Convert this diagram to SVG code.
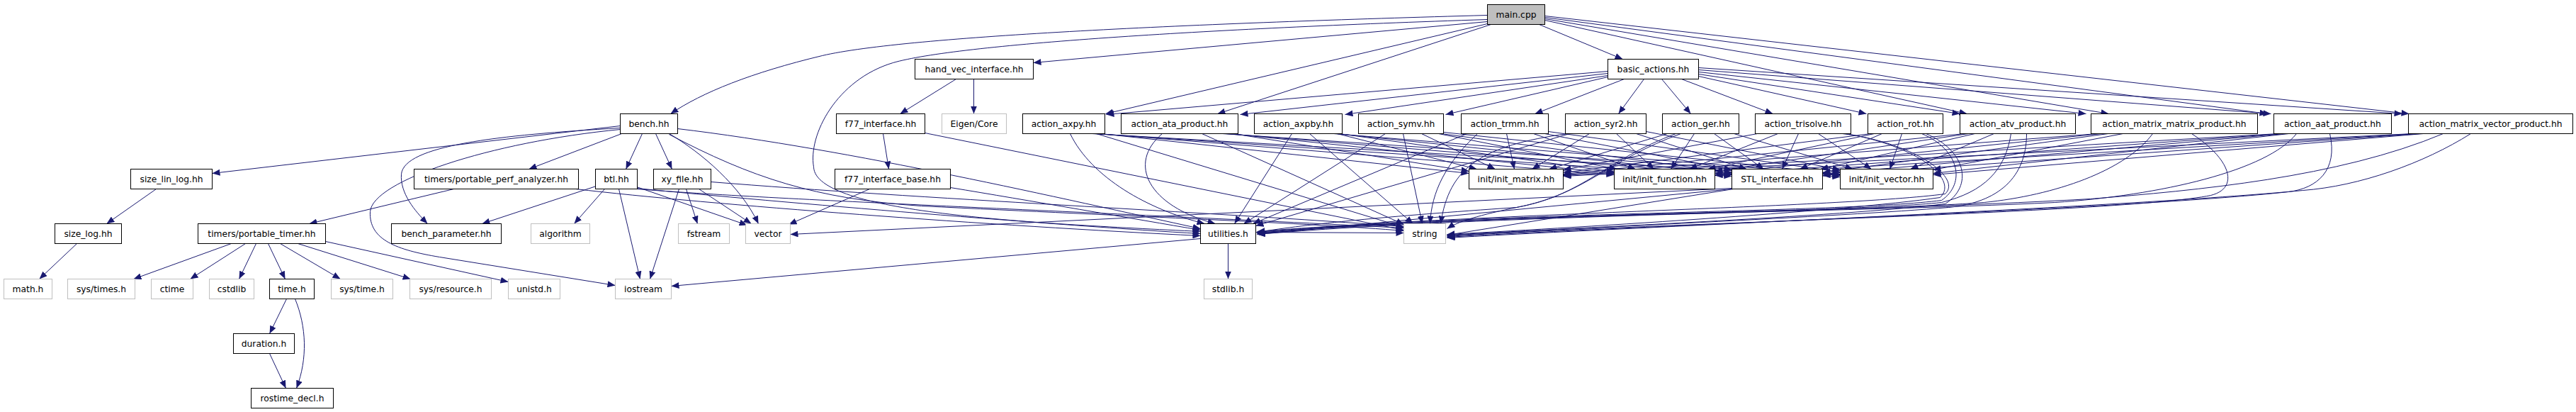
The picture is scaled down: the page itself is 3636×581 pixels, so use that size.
<svg xmlns="http://www.w3.org/2000/svg" width="3636" height="581" viewBox="0 0 3636 581">
<defs>
<style>
.n rect{fill:#fff;stroke:#000;stroke-width:1}
.x rect{fill:#fff;stroke:#bfbfbf;stroke-width:1}
.r rect{fill:#bfbfbf;stroke:#000;stroke-width:1}
text{font-family:"DejaVu Sans","Liberation Sans",sans-serif;font-size:12.3px;text-anchor:middle;fill:#000}
#edges path{fill:none;stroke:#191970;stroke-width:1;marker-end:url(#ah)}
</style>
<marker id="ah" markerWidth="12" markerHeight="9" refX="11" refY="4.5" orient="auto" markerUnits="userSpaceOnUse"><path d="M0,0 L11,4.5 L0,9 z" fill="#191970"/></marker>
</defs>
<rect width="3636" height="581" fill="#fff"/>
<g transform="translate(0.5,0.5)">
<g id="edges">
<path d="M2099,21 C1700,32 1280,50 1160,78 C1060,102 990,130 946,160"/>
<path d="M2099,27 C1700,40 1350,62 1260,88 C1180,112 1140,190 1148,235 C1150,300 1450,314 1694,326"/>
<path d="M2099,30 L1458,88"/>
<path d="M2172,34 L2290,83"/>
<path d="M2099,33 L1560,160"/>
<path d="M2104,34 L1718,160"/>
<path d="M2180,28 L2776,160"/>
<path d="M2180,26 L2976,160"/>
<path d="M2180,24 L3200,160"/>
<path d="M2180,22 L3400,160"/>
<path d="M2269,100 L1561,161"/>
<path d="M2269,103 L1750,161"/>
<path d="M2269,106 L1898,161"/>
<path d="M2269,108 L2040,161"/>
<path d="M2292,111 L2166,160"/>
<path d="M2320,111 L2284,160"/>
<path d="M2345,111 L2386,160"/>
<path d="M2373,111 L2502,160"/>
<path d="M2397,107 L2634,160"/>
<path d="M2397,104 L2766,160"/>
<path d="M2397,101 L2944,160"/>
<path d="M2397,98 L3205,160"/>
<path d="M2397,95 L3390,160"/>
<path d="M875,177 L299,244"/>
<path d="M875,180 C700,190 570,205 566,245 C564,272 585,297 603,315"/>
<path d="M875,182 C690,200 525,255 522,298 C520,338 560,352 620,362 L868,402"/>
<path d="M877,188 L746,238"/>
<path d="M906,188 L883,238"/>
<path d="M925,188 L948,238"/>
<path d="M944,188 C990,215 1045,262 1070,315"/>
<path d="M956,181 C1200,210 1500,280 1694,322"/>
<path d="M944,189 C1060,250 1150,280 1300,290 C1600,305 1850,314 1981,325"/>
<path d="M841,262 L680,315"/>
<path d="M853,266 L810,315"/>
<path d="M873,266 L903,393"/>
<path d="M898,263 L1054,317"/>
<path d="M898,265 C1100,285 1500,318 1694,329"/>
<path d="M898,266 C1100,282 1500,296 1981,321"/>
<path d="M958,266 L917,393"/>
<path d="M968,266 L984,315"/>
<path d="M986,266 L1060,315"/>
<path d="M1003,256 C1300,280 1700,298 1981,319"/>
<path d="M640,266 L436,315"/>
<path d="M812,266 C1000,288 1400,318 1694,332"/>
<path d="M326,343 L188,393"/>
<path d="M346,343 L268,393"/>
<path d="M361,343 L337,393"/>
<path d="M378,343 L402,393"/>
<path d="M395,343 L480,393"/>
<path d="M420,343 L579,393"/>
<path d="M459,340 L717,397"/>
<path d="M404,421 L380,470"/>
<path d="M416,421 C432,460 434,505 418,547"/>
<path d="M380,498 L403,547"/>
<path d="M220,266 L150,315"/>
<path d="M108,343 L55,393"/>
<path d="M1349,111 L1270,160"/>
<path d="M1374,111 L1374,160"/>
<path d="M1246,188 L1254,238"/>
<path d="M1305,187 L1981,324"/>
<path d="M1227,266 L1113,316"/>
<path d="M1341,264 C1450,282 1600,308 1694,324"/>
<path d="M1733,343 L1733,393"/>
<path d="M1694,336 L947,403"/>
<path d="M1772,327 L1981,328"/>
<path d="M2444,265 L1115,330"/>
<path d="M2444,266 L1774,330"/>
<path d="M2446,266 L2042,331"/>
<path d="M1553,188 L2073,244"/>
<path d="M1549,188 L2278,246"/>
<path d="M1545,188 L2444,248"/>
<path d="M1541,188 L2597,249"/>
<path d="M1510,188 C1540,250 1620,295 1700,315"/>
<path d="M1547,188 L1981,320"/>
<path d="M1740,188 L2073,241"/>
<path d="M1735,188 L2278,244"/>
<path d="M1730,188 L2444,246"/>
<path d="M1725,188 L2597,247"/>
<path d="M1640,188 C1590,230 1620,290 1715,315"/>
<path d="M1696,188 L1981,316"/>
<path d="M1887,188 L2084,238"/>
<path d="M1890,188 L2278,242"/>
<path d="M1886,188 L2444,245"/>
<path d="M1882,188 L2597,246"/>
<path d="M1823,188 L1742,315"/>
<path d="M1848,188 L1994,315"/>
<path d="M2006,188 L2110,238"/>
<path d="M2030,188 L2282,238"/>
<path d="M2034,188 L2444,243"/>
<path d="M2037,186 L2597,245"/>
<path d="M1955,188 L1755,315"/>
<path d="M1980,188 L2007,315"/>
<path d="M2126,188 L2137,238"/>
<path d="M2164,188 L2308,238"/>
<path d="M2180,188 L2444,239"/>
<path d="M2185,185 L2597,242"/>
<path d="M2070,188 L1768,315"/>
<path d="M2085,188 C2040,230 2020,270 2018,315"/>
<path d="M2243,188 L2162,238"/>
<path d="M2281,188 L2334,238"/>
<path d="M2309,188 L2465,238"/>
<path d="M2323,185 L2597,239"/>
<path d="M2215,188 L1772,318"/>
<path d="M2212,188 C2090,205 2045,235 2033,315"/>
<path d="M2353,188 L2186,238"/>
<path d="M2391,188 L2358,238"/>
<path d="M2419,188 L2489,238"/>
<path d="M2447,188 L2615,238"/>
<path d="M2365,188 C2265,225 2235,275 2140,292 C1950,305 1850,315 1774,327"/>
<path d="M2372,188 C2270,225 2240,270 2150,290 C2100,300 2060,310 2042,322"/>
<path d="M2480,188 L2206,239"/>
<path d="M2509,188 L2384,238"/>
<path d="M2538,188 L2515,238"/>
<path d="M2566,188 L2641,238"/>
<path d="M2600,188 C2700,200 2770,250 2745,273 C2600,292 2100,300 1774,326"/>
<path d="M2605,188 C2705,205 2765,252 2738,278 C2600,298 2200,322 2042,330"/>
<path d="M2640,188 L2206,243"/>
<path d="M2645,188 L2410,238"/>
<path d="M2656,188 L2540,238"/>
<path d="M2684,188 L2667,238"/>
<path d="M2712,188 C2765,210 2775,258 2740,282 C2600,300 2100,298 1774,327"/>
<path d="M2718,188 C2775,212 2785,262 2745,287 C2600,305 2200,322 2042,331"/>
<path d="M2772,188 L2206,245"/>
<path d="M2778,188 L2420,241"/>
<path d="M2787,188 L2569,238"/>
<path d="M2814,188 L2696,238"/>
<path d="M2838,188 C2830,240 2800,270 2740,285 C2600,300 2100,300 1774,328"/>
<path d="M2860,188 C2860,250 2820,285 2750,292 C2600,305 2200,322 2042,332"/>
<path d="M2960,188 L2206,246"/>
<path d="M2965,188 L2420,244"/>
<path d="M2975,188 L2572,243"/>
<path d="M2996,188 L2728,239"/>
<path d="M3038,188 C3000,240 2900,275 2800,285 C2600,300 2100,300 1774,328"/>
<path d="M3093,188 C3150,225 3160,265 3120,275 C3000,300 2300,315 2042,333"/>
<path d="M3215,188 L2206,247"/>
<path d="M3220,188 L2420,246"/>
<path d="M3225,188 L2572,245"/>
<path d="M3230,188 L2728,244"/>
<path d="M3241,188 C3200,240 3050,275 2900,285 C2600,300 2100,300 1774,329"/>
<path d="M3288,188 C3300,240 3270,265 3230,270 C3000,295 2300,318 2042,334"/>
<path d="M3405,188 L2206,248"/>
<path d="M3410,188 L2420,247"/>
<path d="M3415,188 L2572,247"/>
<path d="M3420,188 L2728,246"/>
<path d="M3448,188 C3300,250 3100,268 2950,280 C2600,300 2100,302 1774,330"/>
<path d="M3487,188 C3420,230 3330,262 3250,268 C3000,292 2300,320 2042,335"/>
</g>
<g id="n_main" class="r"><rect x="2099" y="6" width="81" height="28"/><text x="2139.5" y="24.5">main.cpp</text></g>
<g id="n_hand_vec" class="n"><rect x="1291" y="83" width="167" height="28"/><text x="1374.5" y="101.5">hand_vec_interface.hh</text></g>
<g id="n_basic_actions" class="n"><rect x="2269" y="83" width="128" height="28"/><text x="2333" y="101.5">basic_actions.hh</text></g>
<g id="n_bench" class="n"><rect x="875" y="160" width="81" height="28"/><text x="915.5" y="178.5">bench.hh</text></g>
<g id="n_f77_interface" class="n"><rect x="1180" y="160" width="125" height="28"/><text x="1242.5" y="178.5">f77_interface.hh</text></g>
<g id="n_eigen_core" class="x"><rect x="1329" y="160" width="91" height="28"/><text x="1374.5" y="178.5">Eigen/Core</text></g>
<g id="n_axpy" class="n"><rect x="1443" y="160" width="116" height="28"/><text x="1501" y="178.5">action_axpy.hh</text></g>
<g id="n_ata" class="n"><rect x="1582" y="160" width="165" height="28"/><text x="1664.5" y="178.5">action_ata_product.hh</text></g>
<g id="n_axpby" class="n"><rect x="1770" y="160" width="124" height="28"/><text x="1832" y="178.5">action_axpby.hh</text></g>
<g id="n_symv" class="n"><rect x="1917" y="160" width="120" height="28"/><text x="1977" y="178.5">action_symv.hh</text></g>
<g id="n_trmm" class="n"><rect x="2062" y="160" width="123" height="28"/><text x="2123.5" y="178.5">action_trmm.hh</text></g>
<g id="n_syr2" class="n"><rect x="2209" y="160" width="114" height="28"/><text x="2266" y="178.5">action_syr2.hh</text></g>
<g id="n_ger" class="n"><rect x="2346" y="160" width="108" height="28"/><text x="2400" y="178.5">action_ger.hh</text></g>
<g id="n_trisolve" class="n"><rect x="2477" y="160" width="135" height="28"/><text x="2544.5" y="178.5">action_trisolve.hh</text></g>
<g id="n_rot" class="n"><rect x="2636" y="160" width="106" height="28"/><text x="2689" y="178.5">action_rot.hh</text></g>
<g id="n_atv" class="n"><rect x="2766" y="160" width="163" height="28"/><text x="2847.5" y="178.5">action_atv_product.hh</text></g>
<g id="n_mm" class="n"><rect x="2951" y="160" width="235" height="28"/><text x="3068.5" y="178.5">action_matrix_matrix_product.hh</text></g>
<g id="n_aat" class="n"><rect x="3209" y="160" width="166" height="28"/><text x="3292" y="178.5">action_aat_product.hh</text></g>
<g id="n_mv" class="n"><rect x="3399" y="160" width="232" height="28"/><text x="3515" y="178.5">action_matrix_vector_product.hh</text></g>
<g id="n_size_lin_log" class="n"><rect x="184" y="238" width="115" height="28"/><text x="241.5" y="256.5">size_lin_log.hh</text></g>
<g id="n_perf" class="n"><rect x="584" y="238" width="232" height="28"/><text x="700" y="256.5">timers/portable_perf_analyzer.hh</text></g>
<g id="n_btl" class="n"><rect x="840" y="238" width="59" height="28"/><text x="869.5" y="256.5">btl.hh</text></g>
<g id="n_xy_file" class="n"><rect x="922" y="238" width="81" height="28"/><text x="962.5" y="256.5">xy_file.hh</text></g>
<g id="n_f77_base" class="n"><rect x="1178" y="238" width="163" height="28"/><text x="1259.5" y="256.5">f77_interface_base.hh</text></g>
<g id="n_init_matrix" class="n"><rect x="2073" y="238" width="133" height="28"/><text x="2139.5" y="256.5">init/init_matrix.hh</text></g>
<g id="n_init_function" class="n"><rect x="2278" y="238" width="142" height="28"/><text x="2349" y="256.5">init/init_function.hh</text></g>
<g id="n_stl" class="n"><rect x="2444" y="238" width="128" height="28"/><text x="2508" y="256.5">STL_interface.hh</text></g>
<g id="n_init_vector" class="n"><rect x="2597" y="238" width="131" height="28"/><text x="2662.5" y="256.5">init/init_vector.hh</text></g>
<g id="n_size_log" class="n"><rect x="77" y="315" width="94" height="28"/><text x="124" y="333.5">size_log.hh</text></g>
<g id="n_timer" class="n"><rect x="279" y="315" width="180" height="28"/><text x="369" y="333.5">timers/portable_timer.hh</text></g>
<g id="n_bench_param" class="n"><rect x="552" y="315" width="155" height="28"/><text x="629.5" y="333.5">bench_parameter.hh</text></g>
<g id="n_algorithm" class="x"><rect x="749" y="315" width="83" height="28"/><text x="790.5" y="333.5">algorithm</text></g>
<g id="n_fstream" class="x"><rect x="957" y="315" width="72" height="28"/><text x="993" y="333.5">fstream</text></g>
<g id="n_vector" class="x"><rect x="1052" y="315" width="63" height="28"/><text x="1083.5" y="333.5">vector</text></g>
<g id="n_utilities" class="n"><rect x="1694" y="315" width="78" height="28"/><text x="1733" y="333.5">utilities.h</text></g>
<g id="n_string" class="x"><rect x="1981" y="315" width="59" height="28"/><text x="2010.5" y="333.5">string</text></g>
<g id="n_math" class="x"><rect x="5" y="393" width="68" height="28"/><text x="39" y="411.5">math.h</text></g>
<g id="n_sys_times" class="x"><rect x="95" y="393" width="95" height="28"/><text x="142.5" y="411.5">sys/times.h</text></g>
<g id="n_ctime" class="x"><rect x="213" y="393" width="59" height="28"/><text x="242.5" y="411.5">ctime</text></g>
<g id="n_cstdlib" class="x"><rect x="295" y="393" width="63" height="28"/><text x="326.5" y="411.5">cstdlib</text></g>
<g id="n_time" class="n"><rect x="380" y="393" width="63" height="28"/><text x="411.5" y="411.5">time.h</text></g>
<g id="n_sys_time" class="x"><rect x="467" y="393" width="87" height="28"/><text x="510.5" y="411.5">sys/time.h</text></g>
<g id="n_sys_resource" class="x"><rect x="578" y="393" width="115" height="28"/><text x="635.5" y="411.5">sys/resource.h</text></g>
<g id="n_unistd" class="x"><rect x="717" y="393" width="73" height="28"/><text x="753.5" y="411.5">unistd.h</text></g>
<g id="n_iostream" class="x"><rect x="868" y="393" width="79" height="28"/><text x="907.5" y="411.5">iostream</text></g>
<g id="n_stdlib" class="x"><rect x="1699" y="393" width="68" height="28"/><text x="1733" y="411.5">stdlib.h</text></g>
<g id="n_duration" class="n"><rect x="329" y="470" width="86" height="28"/><text x="372" y="488.5">duration.h</text></g>
<g id="n_rostime_decl" class="n"><rect x="354" y="547" width="116" height="28"/><text x="412" y="565.5">rostime_decl.h</text></g>
</g>
</svg>
